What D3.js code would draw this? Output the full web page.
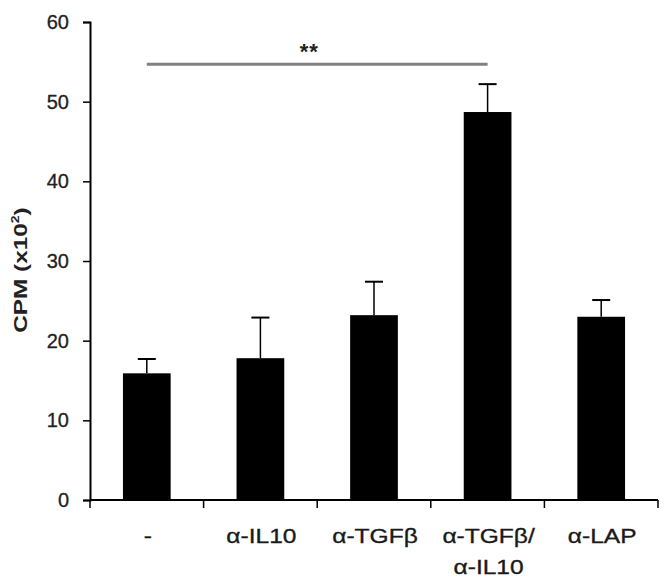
<!DOCTYPE html>
<html>
<head>
<meta charset="utf-8">
<script src="https://cdn.jsdelivr.net/npm/d3@7"></script>
<style>
  body { margin: 0; background: #fff; }
  svg { display: block; font-family: "Liberation Sans", Arial, sans-serif; }
</style>
</head>
<body>
<div id="chart"></div>
<script>
const categories = ["-", "α-IL10", "α-TGFβ", "α-TGFβ/\nα-IL10", "α-LAP"];
const means = [15.9, 17.8, 23.2, 48.7, 23.0];
const errors = [1.8, 5.1, 4.2, 3.5, 2.1];
const yTicks = [0, 10, 20, 30, 40, 50, 60];
const sigPair = [0, 3];
const sigLabel = "**";
const sigLevel = 54.7;

const width = 671, height = 587;
const margin = { top: 22, right: 13, bottom: 87, left: 90 };

const svg = d3.select("#chart").append("svg")
    .attr("width", width)
    .attr("height", height);

const x = d3.scaleBand()
    .domain(d3.range(categories.length))
    .range([margin.left, width - margin.right])
    .paddingInner(0.58)
    .paddingOuter(0.29);

const band = d3.scaleBand()
    .domain(d3.range(categories.length))
    .range([margin.left, width - margin.right]);

const y = d3.scaleLinear()
    .domain([0, 60])
    .range([height - margin.bottom, margin.top]);

// bars
svg.selectAll(".bar")
    .data(means)
    .enter()
    .append("rect")
    .attr("x", (d, i) => x(i))
    .attr("y", d => y(d))
    .attr("width", x.bandwidth())
    .attr("height", d => y(0) - y(d))
    .attr("fill", "#000");

// error bars (upper only)
const capW = 18;
const eb = svg.selectAll(".err")
    .data(means)
    .enter()
    .append("g");
eb.append("line")
    .attr("x1", (d, i) => x(i) + x.bandwidth() / 2)
    .attr("x2", (d, i) => x(i) + x.bandwidth() / 2)
    .attr("y1", d => y(d))
    .attr("y2", (d, i) => y(d + errors[i]))
    .attr("stroke", "#000")
    .attr("stroke-width", 1.5);
eb.append("line")
    .attr("x1", (d, i) => x(i) + x.bandwidth() / 2 - capW / 2)
    .attr("x2", (d, i) => x(i) + x.bandwidth() / 2 + capW / 2)
    .attr("y1", (d, i) => y(d + errors[i]))
    .attr("y2", (d, i) => y(d + errors[i]))
    .attr("stroke", "#000")
    .attr("stroke-width", 2);

// y axis
const yAxis = svg.append("g")
    .attr("transform", `translate(${margin.left},0)`)
    .call(d3.axisLeft(y).tickValues(yTicks).tickSize(7).tickPadding(14));
yAxis.select(".domain").attr("stroke", "#000").attr("stroke-width", 2);
yAxis.selectAll(".tick line").attr("stroke", "#000").attr("stroke-width", 1.5);
yAxis.selectAll(".tick text")
    .attr("font-size", "20px")
    .attr("fill", "#222")
    .attr("stroke", "#222")
    .attr("stroke-width", 0.3)
    .attr("font-family", "Liberation Sans, Arial, sans-serif");

// x axis: line plus boundary ticks
const xg = svg.append("g");
xg.append("line")
    .attr("x1", margin.left)
    .attr("x2", width - margin.right)
    .attr("y1", y(0))
    .attr("y2", y(0))
    .attr("stroke", "#000")
    .attr("stroke-width", 2);
const bounds = d3.range(categories.length + 1).map(i =>
    i < categories.length ? band(i) : band(i - 1) + band.bandwidth());
xg.selectAll(".xt")
    .data(bounds)
    .enter()
    .append("line")
    .attr("x1", d => d)
    .attr("x2", d => d)
    .attr("y1", y(0))
    .attr("y2", y(0) + 8)
    .attr("stroke", "#000")
    .attr("stroke-width", 1.5);

// category labels (slightly widened glyphs like the source)
const lbl = svg.selectAll(".cat")
    .data(categories)
    .enter()
    .append("text")
    .attr("transform", (d, i) => `translate(${band(i) + band.bandwidth() / 2 + 1},543) scale(1.17,1)`)
    .attr("text-anchor", "middle")
    .attr("font-size", "21px")
    .attr("fill", "#1a1a1a")
    .attr("stroke", "#1a1a1a")
    .attr("stroke-width", 0.35);
lbl.each(function (d) {
    const parts = d.split("\n");
    const t = d3.select(this);
    parts.forEach((p, k) => {
        t.append("tspan")
            .attr("x", 0)
            .attr("dy", k === 0 ? 0 : 31)
            .text(p);
    });
});

// y label
svg.append("text")
    .attr("transform", `translate(27,270) rotate(-90) scale(1.28,1)`)
    .attr("text-anchor", "middle")
    .attr("font-size", "19px")
    .attr("font-weight", "bold")
    .attr("fill", "#222")
    .text("CPM (x10")
    .append("tspan")
    .attr("font-size", "11px")
    .attr("dy", -8)
    .text("2")
    .append("tspan")
    .attr("font-size", "19px")
    .attr("dy", 8)
    .text(")");

// significance line
const sx1 = x(sigPair[0]) + x.bandwidth() / 2;
const sx2 = x(sigPair[1]) + x.bandwidth() / 2;
svg.append("line")
    .attr("x1", sx1)
    .attr("x2", sx2)
    .attr("y1", y(sigLevel))
    .attr("y2", y(sigLevel))
    .attr("stroke", "#808080")
    .attr("stroke-width", 3);
svg.append("text")
    .attr("x", (sx1 + sx2) / 2 - 8)
    .attr("y", y(sigLevel) - 5)
    .attr("text-anchor", "middle")
    .attr("font-size", "22px")
    .attr("font-weight", "bold")
    .attr("letter-spacing", "1px")
    .attr("fill", "#222")
    .text(sigLabel);
</script>
</body>
</html>
